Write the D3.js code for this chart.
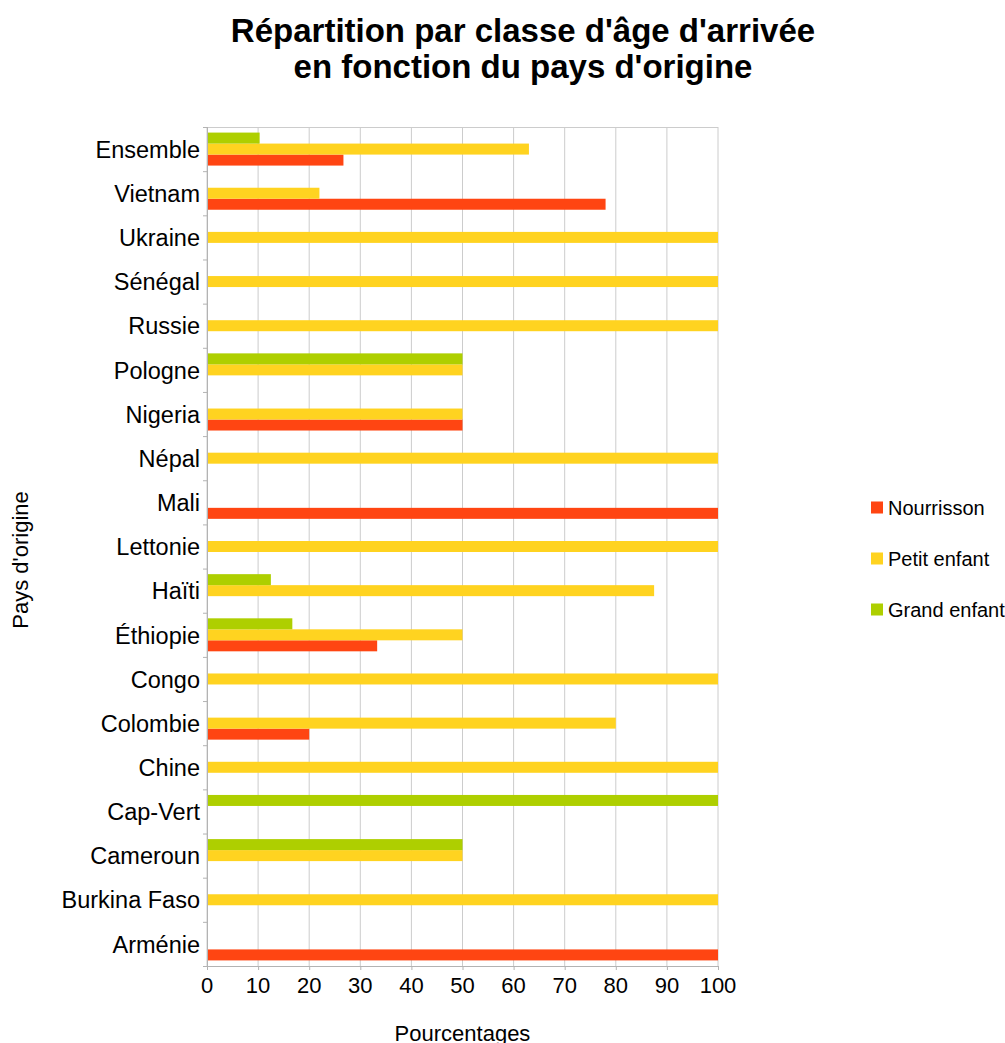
<!DOCTYPE html>
<html>
<head>
<meta charset="utf-8">
<script src="https://cdn.jsdelivr.net/npm/d3@7"></script>
<style>
  body { margin: 0; background: #fff; }
  text { font-family: "Liberation Sans", Arial, sans-serif; fill: #000; }
</style>
</head>
<body>
<div id="chart"></div>
<script>
// categories, top to bottom
var countries = ["Ensemble", "Vietnam", "Ukraine", "Sénégal", "Russie", "Pologne", "Nigeria", "Népal",
  "Mali", "Lettonie", "Haïti", "Éthiopie", "Congo", "Colombie", "Chine", "Cap-Vert", "Cameroun",
  "Burkina Faso", "Arménie"];

// series values (percent)
var nourrisson = [26.7, 78, 0, 0, 0, 0, 50, 0, 100, 0, 0, 33.3, 0, 20, 0, 0, 0, 0, 100];
var petitEnfant = [63, 22, 100, 100, 100, 50, 50, 100, 0, 100, 87.5, 50, 100, 80, 100, 0, 50, 100, 0];
var grandEnfant = [10.3, 0, 0, 0, 0, 50, 0, 0, 0, 0, 12.5, 16.7, 0, 0, 0, 100, 50, 0, 0];

var seriesNames = ["Nourrisson", "Petit enfant", "Grand enfant"];
var seriesColors = ["#ff4512", "#ffd320", "#aecf00"];
var xTicks = [0, 10, 20, 30, 40, 50, 60, 70, 80, 90, 100];

var W = 1005, H = 1043;
var plot = {left: 207, right: 718, top: 127, bottom: 966};

var svg = d3.select("#chart").append("svg")
  .attr("width", W)
  .attr("height", H);

var x = d3.scaleLinear().domain([0, 100]).range([plot.left, plot.right]);
var y = d3.scaleBand().domain(countries).range([plot.top, plot.bottom]).padding(0);
// slots inside one category: grand enfant on top, nourrisson at bottom
var slot = d3.scaleBand().domain(["Grand enfant", "Petit enfant", "Nourrisson"])
  .range([y.bandwidth() / 2 - 16.5, y.bandwidth() / 2 + 16.5]).padding(0);

// vertical grid
svg.append("g").selectAll("line.grid")
  .data(xTicks)
  .enter().append("line")
  .attr("class", "grid")
  .attr("x1", function(d) {return x(d);})
  .attr("x2", function(d) {return x(d);})
  .attr("y1", plot.top)
  .attr("y2", plot.bottom)
  .attr("stroke", "#cccccc")
  .attr("stroke-width", 1);

// top border of plot
svg.append("line")
  .attr("x1", plot.left).attr("x2", plot.right)
  .attr("y1", plot.top + 0.5).attr("y2", plot.top + 0.5)
  .attr("stroke", "#cccccc");

// bars
var rows = [];
countries.forEach(function(c, i) {
  rows.push({country: c, serie: "Nourrisson", value: nourrisson[i], color: seriesColors[0]});
  rows.push({country: c, serie: "Petit enfant", value: petitEnfant[i], color: seriesColors[1]});
  rows.push({country: c, serie: "Grand enfant", value: grandEnfant[i], color: seriesColors[2]});
});

svg.append("g").selectAll("rect.bar")
  .data(rows.filter(function(d) {return d.value > 0;}))
  .enter().append("rect")
  .attr("class", "bar")
  .attr("x", x(0))
  .attr("y", function(d) {return y(d.country) + slot(d.serie);})
  .attr("width", function(d) {return x(d.value) - x(0);})
  .attr("height", slot.bandwidth())
  .attr("fill", function(d) {return d.color;});

// y axis: line + ticks at category boundaries
var yAxis = svg.append("g");
yAxis.append("line")
  .attr("x1", plot.left + 0.5).attr("x2", plot.left + 0.5)
  .attr("y1", plot.top).attr("y2", plot.bottom)
  .attr("stroke", "#b3b3b3");
yAxis.selectAll("line.tick")
  .data(countries.concat(["__end"]))
  .enter().append("line")
  .attr("class", "tick")
  .attr("x1", plot.left - 4).attr("x2", plot.left)
  .attr("y1", function(d, i) {return plot.top + i * y.step() + 0.5;})
  .attr("y2", function(d, i) {return plot.top + i * y.step() + 0.5;})
  .attr("stroke", "#b3b3b3");
yAxis.selectAll("text")
  .data(countries)
  .enter().append("text")
  .attr("x", plot.left - 7)
  .attr("y", function(d) {return y(d) + y.bandwidth() / 2;})
  .attr("dy", "0.37em")
  .attr("text-anchor", "end")
  .style("font-size", "23.5px")
  .text(function(d) {return d;});

// x axis
var xAxis = svg.append("g");
xAxis.append("line")
  .attr("x1", plot.left).attr("x2", plot.right)
  .attr("y1", plot.bottom + 0.5).attr("y2", plot.bottom + 0.5)
  .attr("stroke", "#b3b3b3");
xAxis.selectAll("line.tick")
  .data(xTicks)
  .enter().append("line")
  .attr("class", "tick")
  .attr("x1", function(d) {return x(d) + 0.5;})
  .attr("x2", function(d) {return x(d) + 0.5;})
  .attr("y1", plot.bottom)
  .attr("y2", plot.bottom + 4)
  .attr("stroke", "#b3b3b3");
xAxis.selectAll("text")
  .data(xTicks)
  .enter().append("text")
  .attr("x", function(d) {return x(d);})
  .attr("y", 993)
  .attr("text-anchor", "middle")
  .style("font-size", "22px")
  .text(function(d) {return d;});

// axis titles
svg.append("text")
  .attr("x", x(50))
  .attr("y", 1041)
  .attr("text-anchor", "middle")
  .style("font-size", "22px")
  .text("Pourcentages");

svg.append("text")
  .attr("transform", "translate(28,560) rotate(-90)")
  .attr("text-anchor", "middle")
  .style("font-size", "22px")
  .text("Pays d'origine");

// title
var title = svg.append("text")
  .attr("text-anchor", "middle")
  .style("font-size", "33px")
  .style("font-weight", "bold");
title.append("tspan").attr("x", 523).attr("y", 42).text("Répartition par classe d'âge d'arrivée");
title.append("tspan").attr("x", 523).attr("y", 78).text("en fonction du pays d'origine");

// legend
var legend = svg.append("g").attr("transform", "translate(871,507.5)");
var lg = legend.selectAll("g")
  .data(seriesNames)
  .enter().append("g")
  .attr("transform", function(d, i) {return "translate(0," + (i * 51) + ")";});
lg.append("rect")
  .attr("width", 12)
  .attr("height", 12)
  .attr("y", -6)
  .attr("fill", function(d, i) {return seriesColors[i];});
lg.append("text")
  .attr("x", 17)
  .attr("dy", "0.36em")
  .style("font-size", "20px")
  .text(function(d) {return d;});
</script>
</body>
</html>
